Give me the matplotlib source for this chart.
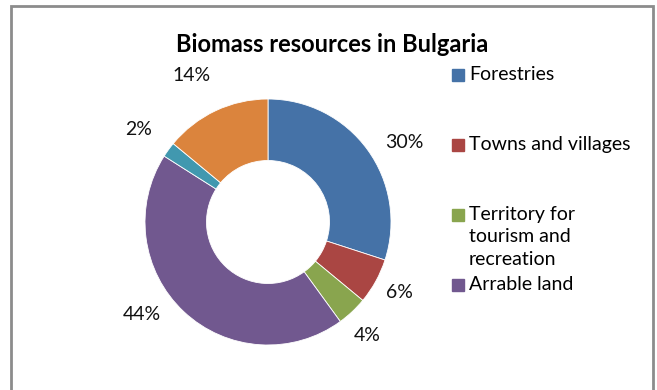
import matplotlib.pyplot as plt
from matplotlib.patches import Rectangle

plt.rcParams['font.family'] = ['Lato', 'DejaVu Sans']

# biomass shares, clockwise from 12 o'clock
shares = [30, 6, 4, 44, 2, 14]
colors = ['#4572A7', '#AA4643', '#89A54E', '#71588F', '#4198AF', '#DB843D']
legend_labels = ['Forestries', 'Towns and villages',
                 'Territory for\ntourism and\nrecreation', 'Arrable land']

# layout: where the percentage labels sit (in pie radii) and legend rows (px from top)
label_xy = [(1.11, 0.65), (1.065, -0.57), (0.805, -0.925),
            (-1.025, -0.755), (-1.05, 0.755), (-0.62, 1.195)]
legend_y = [75, 145, 215, 285]

W, H = 657, 390
fig = plt.figure(figsize=(W / 100, H / 100), dpi=100)

# chart frame
fig.add_artist(Rectangle((11 / W, -0.1), 642 / W, (H - 6) / H + 0.1,
                         transform=fig.transFigure, fill=False,
                         edgecolor='#8c8c8c', linewidth=2))

cx, cy, r = 268, 222, 123
ax = fig.add_axes([(cx - r) / W, (H - cy - r) / H, 2 * r / W, 2 * r / H])
wedges, _, pct = ax.pie(shares, colors=colors, startangle=90, counterclock=False,
                        radius=1, wedgeprops=dict(width=0.5, linewidth=0.6, edgecolor='white'),
                        autopct='%d%%', pctdistance=1.28,
                        textprops=dict(fontsize=14, color='#111111'))
for t, xy in zip(pct, label_xy):
    t.set_position(xy)
ax.set_xlim(-1, 1)
ax.set_ylim(-1, 1)
ax.set_aspect('equal')

fig.text(332 / W, 1 - 45 / H, 'Biomass resources in Bulgaria', ha='center', va='center',
         fontsize=17, fontweight='bold')

for lab, y, c in zip(legend_labels, legend_y, colors):
    fig.add_artist(Rectangle((452 / W, 1 - (y + 6) / H), 12 / W, 12 / H,
                             transform=fig.transFigure, color=c))
    fig.text(469 / W, 1 - (y - 9) / H, lab, ha='left', va='top', fontsize=14,
             linespacing=1.38)

fig.savefig('out.png', dpi=100)
